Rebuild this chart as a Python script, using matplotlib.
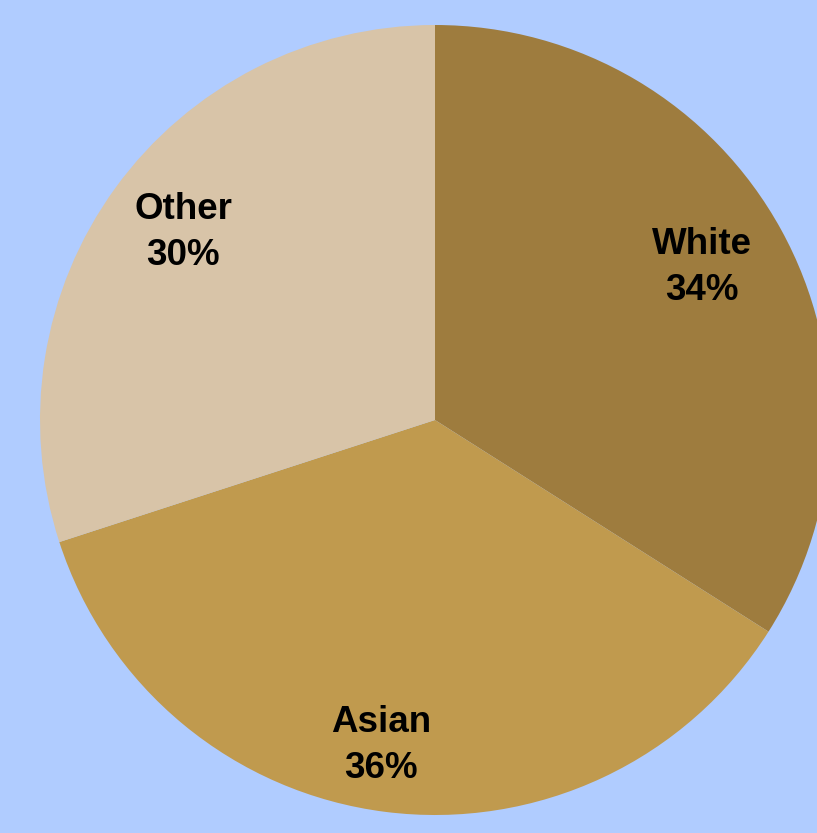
import matplotlib
matplotlib.use("Agg")
import matplotlib.pyplot as plt

categories = ["White", "Asian", "Other"]
shares = [34, 36, 30]
colors = ["#9e7c3e", "#c09a4e", "#d8c4a8"]

bg = "#b0ccff"
W, H = 817, 833
cx, cy, r = 435, 420, 395  # pie centre and radius in pixels
# small per-label nudges (pixels) to mimic the original label placement
nudge = [(-10, 0), (-14, 12), (4, -2)]

fig = plt.figure(figsize=(W / 100, H / 100), dpi=100, facecolor=bg)
ax = fig.add_axes([0, 0, 1, 1])
ax.set_facecolor(bg)

labels = [f"{c}\n{v}%" for c, v in zip(categories, shares)]
wedges, texts = ax.pie(shares, labels=labels, colors=colors, startangle=90,
                       counterclock=False, radius=1, labeldistance=0.8,
                       wedgeprops=dict(linewidth=0),
                       textprops=dict(fontsize=26.5, fontweight="bold",
                                      family="Liberation Sans", ha="center",
                                      va="center", linespacing=1.4))
for t, (dx, dy) in zip(texts, nudge):
    x, y = t.get_position()
    t.set_position((x + dx / r, y - dy / r))

ax.set_xlim(-cx / r, (W - cx) / r)
ax.set_ylim(-(H - cy) / r, cy / r)
ax.set_aspect("auto")
ax.axis("off")

fig.savefig("out.png", dpi=100, facecolor=bg)
